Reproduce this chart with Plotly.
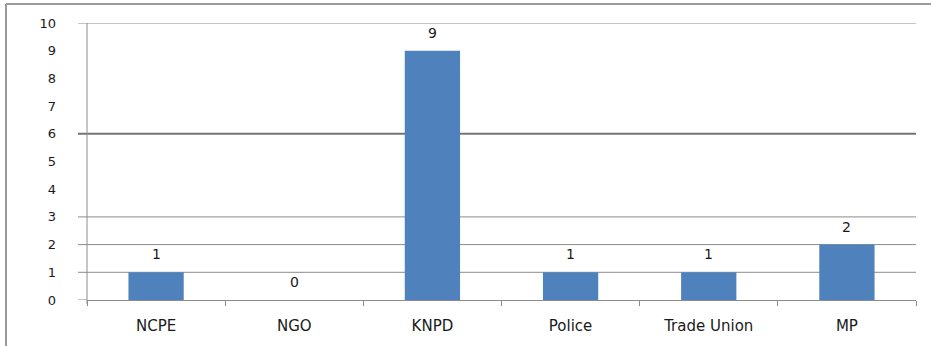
import plotly.graph_objects as go

# Number of cases referred by each body
categories = ["NCPE", "NGO", "KNPD", "Police", "Trade Union", "MP"]
counts = [1, 0, 9, 1, 1, 2]

# Value-axis ticks and the horizontal rules drawn across the plot
y_ticks = [0, 1, 2, 3, 4, 5, 6, 7, 8, 9, 10]
grid_levels = [1, 2, 3, 10]
heavy_levels = [6]

W, H = 931, 346
M_L, M_R, M_T, M_B = 87, 15, 23, 46
plot_w = W - M_L - M_R
plot_h = H - M_T - M_B

BAR = "#4F81BD"
GRID = "#8C8C8C"
TEXT = "#1a1a1a"
FONT = "DejaVu Sans"

fig = go.Figure()
fig.add_trace(go.Bar(
    x=categories,
    y=counts,
    marker=dict(color=BAR, line=dict(width=0)),
    hoverinfo="x+y",
))

# Value labels above each bar
for cat, val in zip(categories, counts):
    fig.add_annotation(
        x=cat, y=val, text=str(val), showarrow=False,
        yanchor="bottom", yshift=8,
        font=dict(family=FONT, size=14, color=TEXT),
    )

tick_out = 9 / plot_w  # gridlines run a little past the value axis
shapes = []
for lvl in grid_levels:
    shapes.append(dict(type="line", xref="paper", yref="y",
                       x0=-tick_out, x1=1, y0=lvl, y1=lvl,
                       line=dict(color=GRID, width=1), layer="below"))
for lvl in heavy_levels:
    shapes.append(dict(type="line", xref="paper", yref="y",
                       x0=-tick_out, x1=1, y0=lvl, y1=lvl,
                       line=dict(color="#747474", width=2), layer="below"))
# baseline tick
shapes.append(dict(type="line", xref="paper", yref="y",
                   x0=-tick_out, x1=0, y0=0, y1=0,
                   line=dict(color=GRID, width=1)))
# value axis line, reaching just under the baseline
shapes.append(dict(type="line", xref="paper", yref="paper",
                   x0=0, x1=0, y0=-4 / plot_h, y1=1,
                   line=dict(color=GRID, width=1)))

# outer frame: left and top edges only
fx = (6 - M_L) / plot_w
fy_top = 1 + (M_T - 4) / plot_h
fy_bot = -(H - M_T - plot_h) / plot_h - 0.01
shapes.append(dict(type="line", xref="paper", yref="paper",
                   x0=fx, x1=fx, y0=fy_bot, y1=fy_top,
                   line=dict(color="#9a9a9a", width=2)))
shapes.append(dict(type="line", xref="paper", yref="paper",
                   x0=fx, x1=1 + (M_R + 2) / plot_w, y0=fy_top, y1=fy_top,
                   line=dict(color="#9a9a9a", width=2)))

fig.update_layout(
    width=W, height=H,
    margin=dict(l=M_L, r=M_R, t=M_T, b=M_B),
    paper_bgcolor="white",
    plot_bgcolor="white",
    showlegend=False,
    bargap=0.6,
    shapes=shapes,
    font=dict(family=FONT, color=TEXT),
    xaxis=dict(
        type="category",
        showgrid=False,
        showline=True, linecolor=GRID, linewidth=1,
        ticks="outside", tickson="boundaries", ticklen=5, tickcolor=GRID,
        tickfont=dict(family=FONT, size=15, color=TEXT),
        ticklabelstandoff=12,
        zeroline=False,
        fixedrange=True,
    ),
    yaxis=dict(
        range=[0, 10],
        tickvals=y_ticks,
        ticktext=[str(v) for v in y_ticks],
        showgrid=False,
        showline=False,
        zeroline=False,
        ticks="",
        tickfont=dict(family=FONT, size=13, color=TEXT),
        ticklabelstandoff=30,
        fixedrange=True,
    ),
)

fig.write_html("out.html")
